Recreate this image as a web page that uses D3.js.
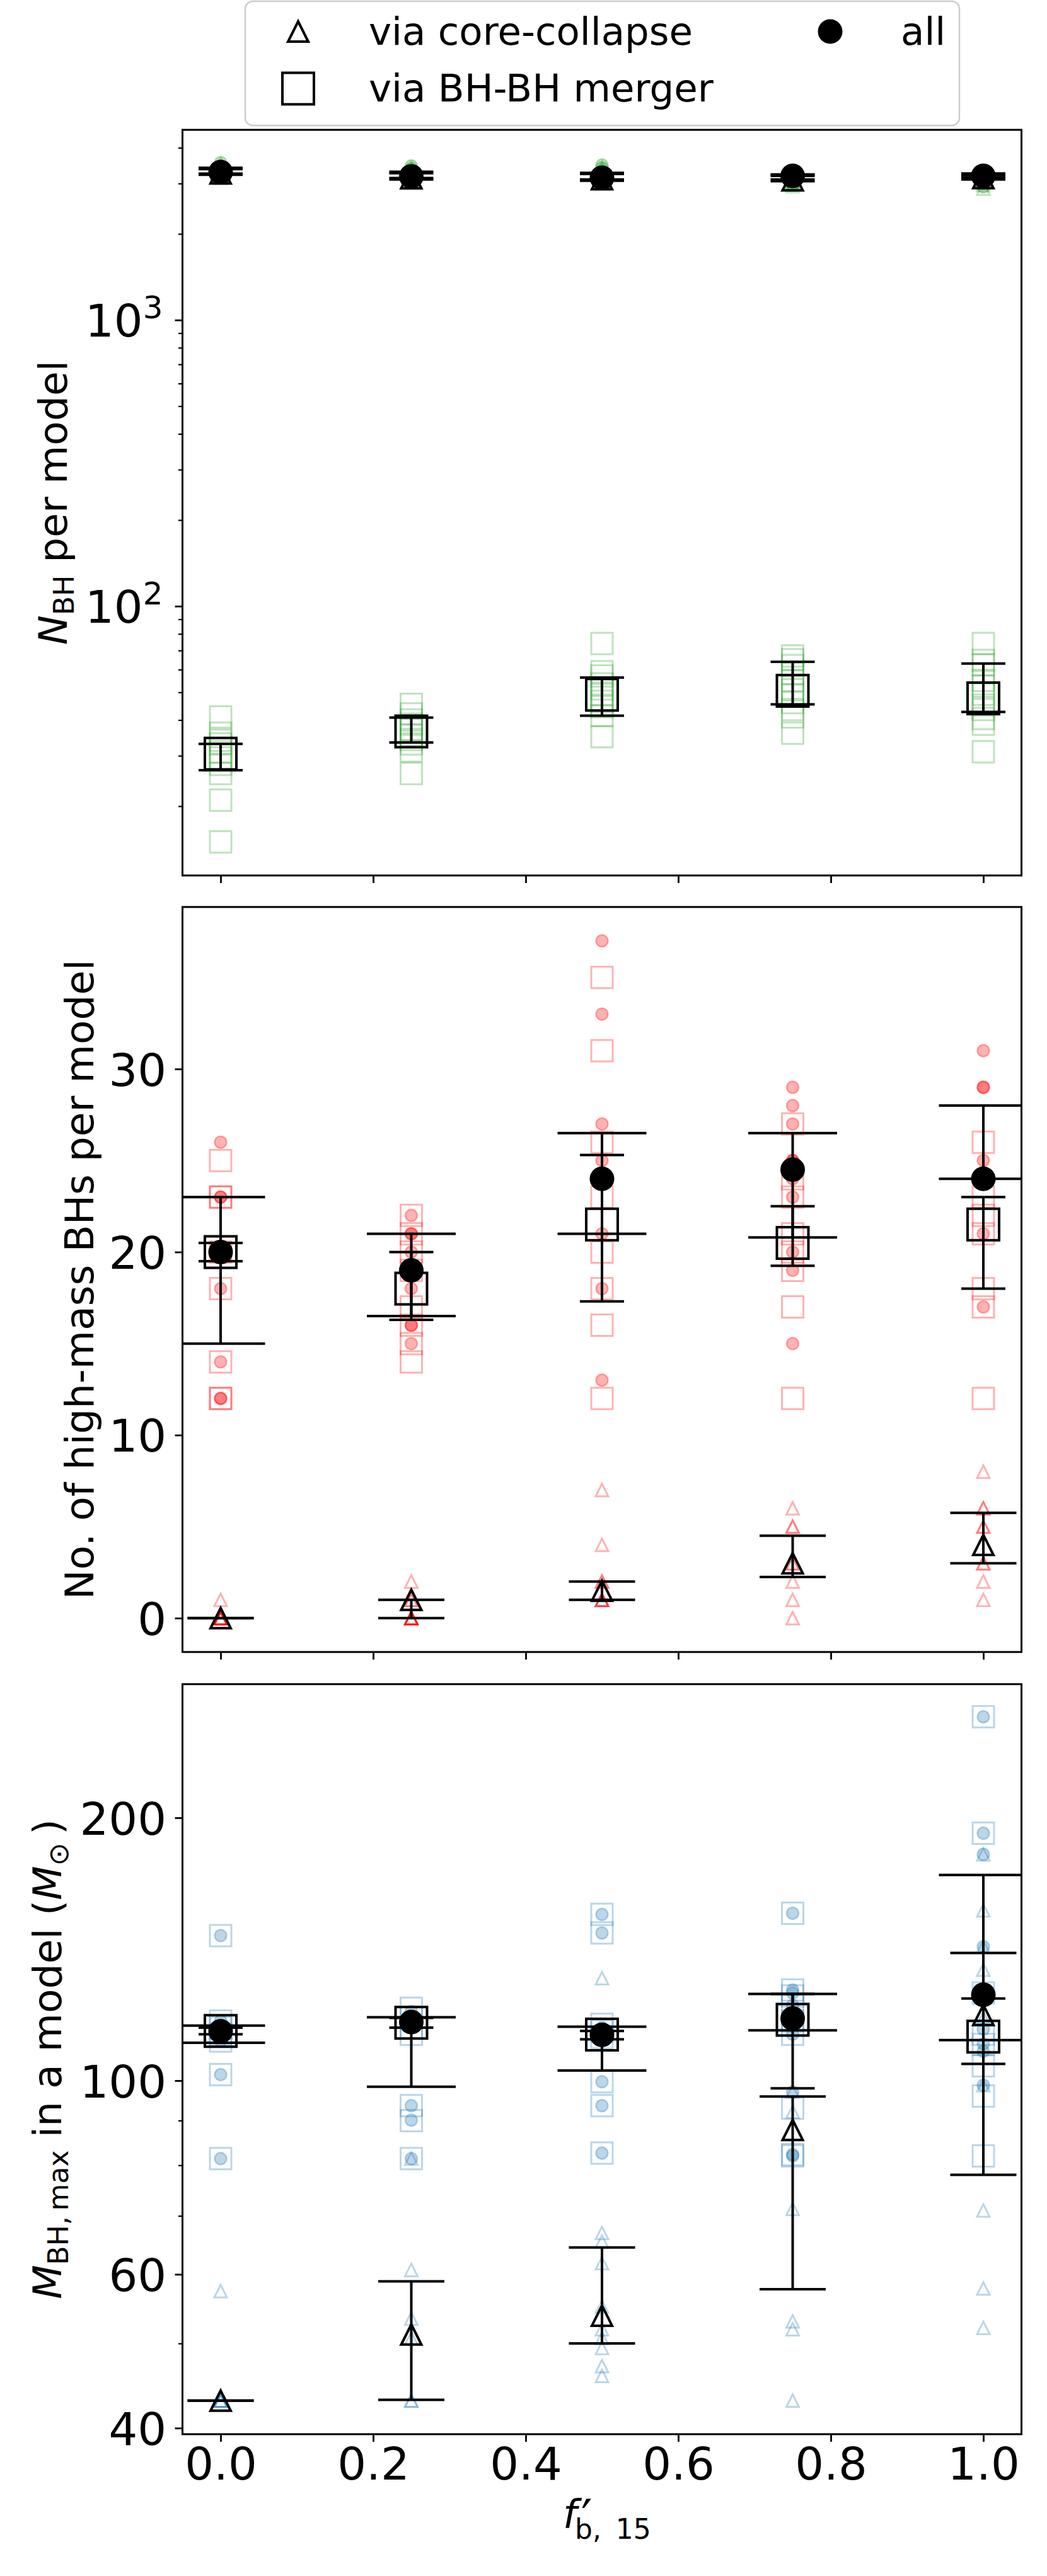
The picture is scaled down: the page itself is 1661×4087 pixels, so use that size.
<!DOCTYPE html>
<html>
<head>
<meta charset="utf-8">
<script src="https://cdn.jsdelivr.net/npm/d3@7"></script>
<style>
  body { margin: 0; background: #fff; }
  svg { display: block; font-family: "DejaVu Sans", sans-serif; }
</style>
</head>
<body>
<script>
// binary fraction of each model set, and x tick labels
const fbValues = [0, 0.25, 0.5, 0.75, 1.0];
const xTickVals = [0, 0.2, 0.4, 0.6, 0.8, 1.0];
const xTickText = ['0.0', '0.2', '0.4', '0.6', '0.8', '1.0'];

// panel 1: number of BHs per model (one inner list per fb value)
const nbhCC = [
  [3510, 3415, 3370, 3320, 3280, 3260, 3230, 3200, 3170, 3130],
  [3410, 3340, 3265, 3215, 3165, 3135, 3105, 3075, 3045, 3020],
  [3410, 3345, 3250, 3170, 3130, 3100, 3075, 3055, 3035, 3000],
  [3140, 3120, 3100, 3085, 3070, 3050, 3030, 3000, 2970, 2938],
  [3140, 3140, 3120, 3100, 3080, 3060, 3045, 3015, 2960, 2880]
];
const nbhMerger = [
  [41, 36, 34, 33, 31, 29.5, 28, 26, 21, 15],
  [45.4, 42, 40, 38.7, 37, 35.5, 34.2, 33, 31.2, 26],
  [74, 59, 57, 53.5, 51.4, 49, 46.5, 44.5, 41.4, 35],
  [67, 65, 62, 58, 55, 51, 49, 46, 43.5, 41, 36],
  [74, 64.6, 62.4, 55, 52.6, 49.2, 45.1, 43.5, 40.5, 38.7, 31]
];
const nbhAll = [
  [3550, 3450, 3400, 3350, 3310, 3290, 3260, 3230, 3200, 3160],
  [3456, 3380, 3300, 3250, 3200, 3170, 3140, 3110, 3080, 3060],
  [3483, 3400, 3300, 3220, 3180, 3150, 3120, 3100, 3080, 3050],
  [3200, 3180, 3160, 3140, 3120, 3100, 3080, 3050, 3020, 2980],
  [3200, 3190, 3170, 3150, 3130, 3110, 3090, 3060, 3000, 2920]
];
const nbhCCMid = [3257, 3132, 3108, 3081, 3133];
const nbhCCLo = [3220, 3100, 3068, 3056, 3100];
const nbhCCHi = [3370, 3260, 3240, 3190, 3211];
const nbhMergerMid = [30.5, 36.5, 49, 50.6, 47.6];
const nbhMergerLo = [26.7, 33.4, 41.4, 45.4, 42.7];
const nbhMergerHi = [33, 40.8, 56.3, 63.9, 63];
const nbhAllMid = [3290, 3176, 3141, 3191, 3191];
const nbhAllLo = [3248, 3136, 3100, 3100, 3150];
const nbhAllHi = [3404, 3298, 3270, 3227, 3253];

// panel 2: number of high-mass BHs per model
const hmCC = [
  [1, 0, 0, 0, 0, 0, 0, 0],
  [2, 1, 1, 0, 0, 0, 0, 0, 0],
  [7, 4, 2, 2, 1, 1, 1, 1],
  [6, 5, 5, 3, 3, 2, 1, 0],
  [8, 6, 6, 5, 5, 3, 3, 2, 1]
];
const hmMerger = [
  [25, 23, 23, 20, 18, 14, 12, 12],
  [22, 21, 20, 19, 17, 16, 15, 14],
  [35, 31, 26, 23, 20, 18, 16, 12],
  [27, 24, 23, 21, 20, 19, 17, 12],
  [26, 23, 22, 21, 18, 17, 12]
];
const hmAll = [
  [26, 23, 23, 20, 18, 14, 12, 12],
  [22, 21, 21, 20, 19, 18, 16, 16, 15],
  [37, 33, 27, 25, 24, 21, 18, 13],
  [29, 28, 27, 25, 25, 24, 23, 20, 19, 15],
  [31, 29, 29, 25, 24, 21, 17]
];
const hmCCMid = [0, 1, 1.5, 3, 4];
const hmCCLo = [0, 0, 1, 2.25, 3];
const hmCCHi = [0, 1, 2, 4.5, 5.75];
const hmMergerMid = [20, 18, 21.5, 20.5, 21.5];
const hmMergerLo = [19.5, 16.3, 17.3, 19.25, 18];
const hmMergerHi = [20.5, 20, 25.3, 22.5, 23];
const hmAllMid = [20, 19, 24, 24.5, 24];
const hmAllLo = [15, 16.5, 21, 20.8, 24];
const hmAllHi = [23, 21, 26.5, 26.5, 28];

// panel 3: most massive BH in a model (Msun)
const mmaxCC = [
  [57.4, 43, 43, 43, 43],
  [81.4, 60.7, 53.4, 50.7, 43, 43],
  [131, 66.9, 65.4, 61.8, 55.1, 51.9, 50.7, 49.4, 47.1, 45.9],
  [97.2, 92.1, 71.3, 53, 51.9, 43],
  [181.6, 156.7, 142.4, 134, 118, 98.8, 71, 57.8, 52.1]
];
const mmaxMerger = [
  [146.6, 117, 115, 113, 111, 101.6, 81.4],
  [121, 118, 115, 113, 93.6, 90, 81.4],
  [155, 147.6, 116, 114, 112, 99.7, 93.6, 82.6],
  [155.5, 127, 125, 122, 117, 113, 93, 82.3, 82],
  [261, 192, 126, 113, 110, 104, 96, 82]
];
const mmaxAll = [
  [146.6, 117, 115, 113, 111, 101.6, 81.4],
  [120, 117, 115, 93.6, 90.1, 81.4],
  [155, 147.6, 115, 113, 99.7, 93.6, 82.6],
  [155.5, 127, 126, 122, 116, 113, 97, 82.3, 82],
  [261, 192, 181.6, 142.4, 114.5, 110.2, 108, 98.8]
];
const mmaxCCMid = [43, 51.2, 53.8, 87.8, 118.9];
const mmaxCCLo = [43, 43.1, 50, 57.7, 78];
const mmaxCCHi = [43, 58.9, 64.4, 95.9, 140];
const mmaxMergerMid = [114, 116.5, 112.9, 117.4, 112.3];
const mmaxMergerLo = [113, 115, 111.5, 98, 104.5];
const mmaxMergerHi = [115, 118, 114, 125.7, 124.2];
const mmaxAllMid = [113.9, 116.7, 112.8, 117.8, 125.4];
const mmaxAllLo = [110.5, 98.4, 102.7, 114.2, 111.3];
const mmaxAllHi = [115.6, 118.2, 115.3, 125.7, 172];

// axis ticks
const nbhMajor = [100, 1000];
const nbhMinor = [20, 30, 40, 50, 60, 70, 80, 90, 200, 300, 400, 500, 600, 700, 800, 900, 2000, 3000, 4000];
const hmMajor = [0, 10, 20, 30];
const mmaxMajor = [40, 60, 100, 200];
const mmaxMinor = [50, 70, 80, 90];

const legendLabels = ['via core-collapse', 'via BH-BH merger', 'all'];

const W = 1661, H = 4087;
const svg = d3.select('body').append('svg').attr('width', W).attr('height', H);
svg.append('rect').attr('width', W).attr('height', H).attr('fill', '#fff');
const defs = svg.append('defs');

const x = d3.scaleLinear().domain([-0.05, 1.05]).range([289.5, 1620.5]);
const [xL, xR] = x.range();

const panels = [
  {
    top: 206, bottom: 1389, color: '#2ca02c',
    y: d3.scaleLog().domain([11.45, 4620]),
    major: nbhMajor, minor: nbhMinor, pow: true,
    caps: { cc: 70, merger: 70, all: 70 },
    cc: [nbhCC, nbhCCMid, nbhCCLo, nbhCCHi],
    merger: [nbhMerger, nbhMergerMid, nbhMergerLo, nbhMergerHi],
    all: [nbhAll, nbhAllMid, nbhAllLo, nbhAllHi],
    labelX: 106,
    label: [{ t: 'N', it: true }, { t: 'BH', sub: true }, { t: ' per model' }]
  },
  {
    top: 1439, bottom: 2621, color: '#ff0000',
    y: d3.scaleLinear().domain([-1.85, 38.85]),
    major: hmMajor, minor: null, pow: false,
    caps: { cc: 105, merger: 70, all: 141 },
    cc: [hmCC, hmCCMid, hmCCLo, hmCCHi],
    merger: [hmMerger, hmMergerMid, hmMergerLo, hmMergerHi],
    all: [hmAll, hmAllMid, hmAllLo, hmAllHi],
    labelX: 148,
    label: [{ t: 'No. of high-mass BHs per model' }]
  },
  {
    top: 2672, bottom: 3862, color: '#1f77b4',
    y: d3.scaleLog().domain([39.36, 284.5]),
    major: mmaxMajor, minor: mmaxMinor, pow: false,
    caps: { cc: 105, merger: 70, all: 141 },
    cc: [mmaxCC, mmaxCCMid, mmaxCCLo, mmaxCCHi],
    merger: [mmaxMerger, mmaxMergerMid, mmaxMergerLo, mmaxMergerHi],
    all: [mmaxAll, mmaxAllMid, mmaxAllLo, mmaxAllHi],
    labelX: 97,
    label: [{ t: 'M', it: true }, { t: 'BH,\u2009max', sub: true }, { t: ' in a model (' },
            { t: 'M', it: true }, { t: '\u2299', sub: true }, { t: '\u2009)' }]
  }
];

function shapePath(kind, cx, cy, s) {
  const h = s / 2;
  if (kind === 'cc') return `M${cx},${cy - h}L${cx - h},${cy + h}L${cx + h},${cy + h}Z`;
  return `M${cx - h},${cy - h}h${s}v${s}h${-s}Z`;
}

const kinds = ['cc', 'merger', 'all'];

panels.forEach((p, k) => {
  const y = p.y.range([p.bottom, p.top]);
  const isLast = k === panels.length - 1;

  defs.append('clipPath').attr('id', 'clip' + k)
    .append('rect').attr('x', xL).attr('y', p.top)
    .attr('width', xR - xL).attr('height', p.bottom - p.top);
  const plot = svg.append('g').attr('clip-path', `url(#clip${k})`);

  // faint per-model markers
  kinds.forEach(kind => {
    const pts = p[kind][0].flatMap((vals, i) => vals.map(v => ({ f: fbValues[i], v })));
    if (kind === 'all') {
      plot.append('g').selectAll('circle').data(pts).enter().append('circle')
        .attr('cx', d => x(d.f)).attr('cy', d => y(d.v)).attr('r', 9.5)
        .attr('fill', p.color).attr('fill-opacity', 0.3)
        .attr('stroke', p.color).attr('stroke-opacity', 0.3).attr('stroke-width', 2.5);
    } else {
      plot.append('g').selectAll('path').data(pts).enter().append('path')
        .attr('d', d => shapePath(kind, x(d.f), y(d.v), kind === 'cc' ? 20 : 34))
        .attr('fill', 'none').attr('stroke', p.color).attr('stroke-opacity', 0.3)
        .attr('stroke-width', 3);
    }
  });

  // error bars with caps
  kinds.forEach(kind => {
    const [, , lo, hi] = p[kind];
    const half = p.caps[kind] / 2;
    const rows = fbValues.map((f, i) => ({ f, lo: lo[i], hi: hi[i] }));
    const eb = plot.append('g').attr('stroke', '#000').attr('stroke-width', 4);
    eb.selectAll('line.bar').data(rows).enter().append('line').attr('class', 'bar')
      .attr('x1', d => x(d.f)).attr('x2', d => x(d.f))
      .attr('y1', d => y(d.lo)).attr('y2', d => y(d.hi));
    eb.selectAll('line.cap').data(rows.flatMap(d => [{ f: d.f, v: d.lo }, { f: d.f, v: d.hi }]))
      .enter().append('line').attr('class', 'cap')
      .attr('x1', d => x(d.f) - half).attr('x2', d => x(d.f) + half)
      .attr('y1', d => y(d.v)).attr('y2', d => y(d.v));
  });

  // black summary markers
  kinds.forEach(kind => {
    const mid = p[kind][1];
    const rows = fbValues.map((f, i) => ({ f, v: mid[i] }));
    if (kind === 'all') {
      plot.append('g').selectAll('circle').data(rows).enter().append('circle')
        .attr('cx', d => x(d.f)).attr('cy', d => y(d.v)).attr('r', 19.5).attr('fill', '#000');
    } else {
      plot.append('g').selectAll('path').data(rows).enter().append('path')
        .attr('d', d => shapePath(kind, x(d.f), y(d.v), kind === 'cc' ? 32 : 50))
        .attr('fill', 'none').attr('stroke', '#000').attr('stroke-width', 4)
        .attr('stroke-linejoin', 'miter');
    }
  });

  // y axis
  const ga = svg.append('g').attr('transform', `translate(${xL},0)`)
    .call(d3.axisLeft(y).tickValues(p.major).tickSize(12).tickFormat(() => ''));
  ga.select('.domain').remove();
  ga.selectAll('.tick line').attr('stroke', '#000').attr('stroke-width', 2.8);
  ga.selectAll('.tick text').remove();
  ga.selectAll('.tick').each(function (v) {
    const t = d3.select(this).append('text')
      .attr('fill', '#000').attr('font-size', 72).attr('text-anchor', 'end')
      .attr('font-family', '"DejaVu Sans", sans-serif').attr('y', 26);
    if (p.pow) {
      t.attr('x', -31);
      t.append('tspan').text('10');
      t.append('tspan').attr('font-size', 50).attr('dy', -29).text(Math.round(Math.log10(v)));
    } else {
      t.attr('x', -25.5).text(v);
    }
  });
  if (p.minor) {
    const gm = svg.append('g').attr('transform', `translate(${xL},0)`)
      .call(d3.axisLeft(y).tickValues(p.minor).tickSize(6.5).tickFormat(() => ''));
    gm.select('.domain').remove();
    gm.selectAll('.tick line').attr('stroke', '#000').attr('stroke-width', 2.2);
  }

  // x axis, labelled only under the last panel
  const gx = svg.append('g').attr('transform', `translate(0,${p.bottom})`)
    .call(d3.axisBottom(x).tickValues(xTickVals).tickSize(12)
      .tickFormat((d, i) => xTickText[i]));
  gx.select('.domain').remove();
  gx.selectAll('.tick line').attr('stroke', '#000').attr('stroke-width', 2.8);
  if (isLast) {
    gx.selectAll('.tick text').attr('fill', '#000').attr('font-size', 72)
      .attr('font-family', '"DejaVu Sans", sans-serif').attr('y', 72).attr('dy', null);
  } else {
    gx.selectAll('.tick text').remove();
  }

  // y label
  const lab = svg.append('text')
    .attr('transform', `translate(${p.labelX},${(p.top + p.bottom) / 2}) rotate(-90)`)
    .attr('text-anchor', 'middle').attr('font-size', 63).attr('fill', '#000');
  let shifted = false;
  p.label.forEach(part => {
    const ts = lab.append('tspan').text(part.t);
    if (part.it) ts.attr('font-style', 'italic');
    if (part.sub) { ts.attr('font-size', 44).attr('dy', 11); shifted = true; }
    else if (shifted) { ts.attr('dy', -11); shifted = false; }
  });

  // spines
  svg.append('rect').attr('x', xL).attr('y', p.top)
    .attr('width', xR - xL).attr('height', p.bottom - p.top)
    .attr('fill', 'none').attr('stroke', '#000').attr('stroke-width', 3);
});

// x label: f'_{b,15} as one text with placed pieces
const xlab = svg.append('text').attr('font-size', 63).attr('fill', '#000');
xlab.append('tspan').attr('x', 893).attr('y', 4010).attr('font-style', 'italic').text('f');
xlab.append('tspan').attr('x', 922).attr('y', 4022).attr('font-size', 78).text('\u2032');
xlab.append('tspan').attr('x', 912).attr('y', 4028).attr('font-size', 44).text('b,\u2009 15');

// legend
const lg = svg.append('g');
lg.append('rect').attr('x', 389).attr('y', 2).attr('width', 1133).attr('height', 197).attr('rx', 12)
  .attr('fill', '#fff').attr('fill-opacity', 0.8).attr('stroke', '#cccccc').attr('stroke-width', 2.5);
const legendItems = [
  { kind: 'cc', mx: 473, my: 50, tx: 585, ty: 71 },
  { kind: 'merger', mx: 473, my: 140.5, tx: 585, ty: 161 },
  { kind: 'all', mx: 1317, my: 50, tx: 1429, ty: 71 }
];
legendItems.forEach((it, i) => {
  if (it.kind === 'all') {
    lg.append('circle').attr('cx', it.mx).attr('cy', it.my).attr('r', 19.5).attr('fill', '#000');
  } else {
    lg.append('path').attr('d', shapePath(it.kind, it.mx, it.my, it.kind === 'cc' ? 32 : 50))
      .attr('fill', 'none').attr('stroke', '#000').attr('stroke-width', 4);
  }
  lg.append('text').attr('x', it.tx).attr('y', it.ty).attr('font-size', 61).text(legendLabels[i]);
});
</script>
</body>
</html>
